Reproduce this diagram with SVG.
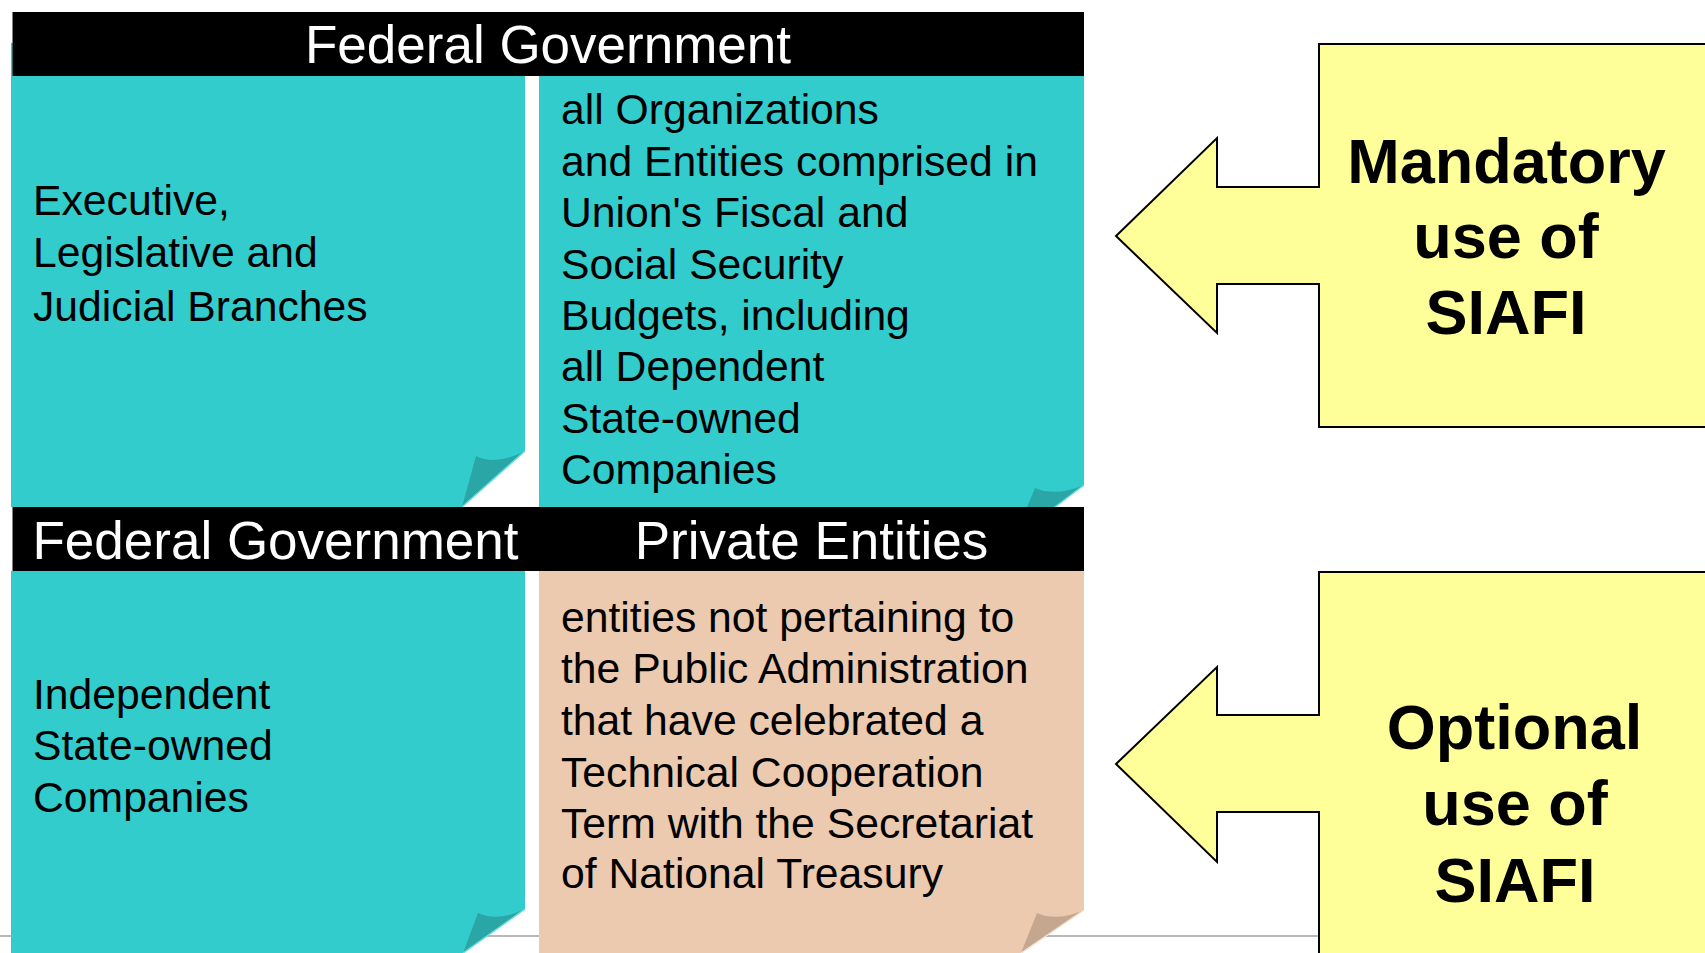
<svg xmlns="http://www.w3.org/2000/svg" width="1705" height="953" viewBox="0 0 1705 953">
<style>
.body{font-family:"Liberation Sans",Arial,sans-serif;font-size:42.7px;fill:#000}
.bar{fill:#000}
.bartxt{font-family:"Liberation Sans",Arial,sans-serif;font-size:53px;fill:#fff;text-anchor:middle}
.big{font-family:"Liberation Sans",Arial,sans-serif;font-size:63px;font-weight:bold;fill:#000;text-anchor:middle}
.teal{fill:#33CCCC}
.peach{fill:#ECCAAF}
.tealfold{fill:#2AA6A6}
.peachfold{fill:#C5A68F}
.tealhi{stroke:#66DEDE;stroke-width:1.5;fill:none}
.peachhi{stroke:#F6DFCC;stroke-width:1.5;fill:none}
.callout{fill:#FFFF99;stroke:#000;stroke-width:2;stroke-linejoin:miter}
</style>
<rect width="1705" height="953" fill="#fff"/>
<line x1="0" y1="936" x2="1319" y2="936" stroke="#B8B8B8" stroke-width="2"/>

<g id="box-exec">
<path class="teal" d="M11,43 H525 V451 L462,507 H11 Z"/>
<path class="tealfold" d="M476,456 Q496,466 525,451 L462,507 Z"/>
<line class="tealhi" x1="525" y1="451" x2="462" y2="507"/>
<text class="body"><tspan x="33" y="215">Executive,</tspan><tspan x="33" y="267">Legislative and</tspan><tspan x="33" y="321">Judicial Branches</tspan></text>
</g>

<g id="box-orgs">
<path class="teal" d="M539,76 H1084 V485 L1014,538 H539 Z"/>
<path class="tealfold" d="M1035,488 Q1056,497 1084,485 L1014,538 Z"/>
<line class="tealhi" x1="1084" y1="485" x2="1014" y2="538"/>
<text class="body"><tspan x="561" y="124">all Organizations</tspan><tspan x="561" y="176">and Entities comprised in</tspan><tspan x="561" y="227">Union's Fiscal and</tspan><tspan x="561" y="279">Social Security</tspan><tspan x="561" y="330">Budgets, including</tspan><tspan x="561" y="381">all Dependent</tspan><tspan x="561" y="433">State-owned</tspan><tspan x="561" y="484">Companies</tspan></text>
</g>

<g id="header-top">
<rect class="bar" x="12.5" y="12" width="1071.5" height="64"/>
<text class="bartxt" x="548" y="63">Federal Government</text>
</g>

<g id="box-independent">
<path class="teal" d="M11,571 H525 V909 L463,953 H11 Z"/>
<path class="tealfold" d="M478,913 Q498,922 525,909 L463,953 Z"/>
<line class="tealhi" x1="525" y1="909" x2="463" y2="953"/>
<text class="body"><tspan x="33" y="709">Independent</tspan><tspan x="33" y="760">State-owned</tspan><tspan x="33" y="812">Companies</tspan></text>
</g>

<g id="box-private">
<path class="peach" d="M539,571 H1084 V910 L1021,953 H539 Z"/>
<path class="peachfold" d="M1037,913 Q1057,922 1084,910 L1021,953 Z"/>
<line class="peachhi" x1="1084" y1="910" x2="1021" y2="953"/>
<text class="body"><tspan x="561" y="632">entities not pertaining to</tspan><tspan x="561" y="683">the Public Administration</tspan><tspan x="561" y="735">that have celebrated a</tspan><tspan x="561" y="787">Technical Cooperation</tspan><tspan x="561" y="838">Term with the Secretariat</tspan><tspan x="561" y="888">of National Treasury</tspan></text>
</g>

<g id="header-bottom">
<rect class="bar" x="12.5" y="507" width="1071.5" height="64"/>
<text class="bartxt" x="275.5" y="558.5">Federal Government</text>
<text class="bartxt" x="811.5" y="558.5">Private Entities</text>
</g>

<g id="connectors">
<g id="mandatory">
<path class="callout" d="M1319,44 H1712 V427 H1319 V284 H1217 V333 L1116,236 L1217,138 V187 H1319 Z"/>
<text class="big"><tspan x="1506.5" y="183">Mandatory</tspan><tspan x="1506" y="258">use of</tspan><tspan x="1506" y="334">SIAFI</tspan></text>
</g>
<g id="optional">
<path class="callout" d="M1319,572 H1712 V962 H1319 V812 H1217 V862 L1116,764 L1217,667 V715 H1319 Z"/>
<text class="big"><tspan x="1514.5" y="749">Optional</tspan><tspan x="1515" y="825">use of</tspan><tspan x="1515" y="902">SIAFI</tspan></text>
</g>
</g>
</svg>
